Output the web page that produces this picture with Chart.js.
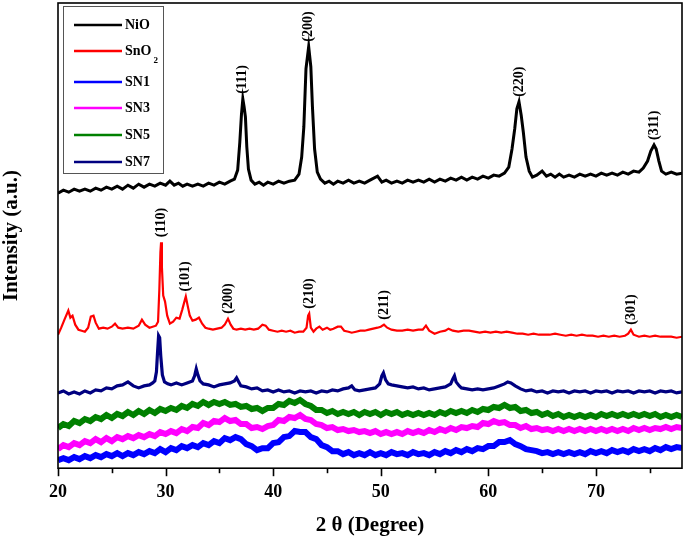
<!DOCTYPE html>
<html>
<head>
<meta charset="utf-8">
<script src="https://cdn.jsdelivr.net/npm/chart.js@4.4.1/dist/chart.umd.min.js"></script>
<style>
html,body{margin:0;padding:0;background:#ffffff;}
canvas{display:block;}
</style>
</head>
<body>
<canvas id="c" width="685" height="538"></canvas>
<script>
// ---------- DATA (2θ in degrees, intensity in arbitrary stacked units) ----------
const seriesNames = ['NiO', 'SnO2', 'SN1', 'SN3', 'SN5', 'SN7'];
const xTickValues = [20, 25, 30, 35, 40, 45, 50, 55, 60, 65, 70, 75];

const nioTheta = [20,20.5,21,21.5,22,22.5,23,23.5,24,24.5,25,25.5,26,26.5,27,27.5,28,28.5,29,29.5,30,
  30.4,30.8,31.2,31.6,
  32,32.5,33,33.5,34,34.5,35,35.5,36,
  36.4,36.7,36.9,37.05,37.18,37.3,37.42,37.55,37.7,37.95,
  38.3,38.7,39.1,39.5,
  40,40.5,41,41.5,42,
  42.4,42.65,42.85,43.05,43.3,43.5,43.65,43.85,44.1,44.4,44.8,
  45.2,45.6,
  46,46.5,47,47.5,48,48.5,49,
  49.7,50.1,
  50.5,51,51.5,52,52.5,53,53.5,54,54.5,55,55.5,56,56.5,57,57.5,58,58.5,59,59.5,60,60.5,61,61.5,
  61.9,62.2,62.45,62.65,62.85,63.05,63.25,63.5,63.8,64.1,64.5,
  65,65.4,65.8,66.2,66.6,
  67,67.5,68,68.5,69,69.5,70,70.5,71,71.5,72,72.5,73,73.5,74,
  74.4,74.8,75.1,75.4,75.6,75.85,76.1,76.5,
  77,77.5,78];
const nioI = [274,277,275,278,276,278,276,279,277,280,278,281,278,282,279,283,280,283,281,284,282,
  286,282,284,281,
  283,281,283,281,284,282,285,283,286,
  288,297,325,352,368,360,350,320,298,287,
  283,285,282,285,
  283,286,284,286,287,
  293,310,340,398,420,400,360,318,295,288,284,
  286,283,
  286,284,287,284,286,284,287,
  291,285,
  287,284,286,284,287,285,287,285,288,285,288,286,289,287,290,287,290,288,291,289,292,291,294,
  300,318,338,358,365,352,335,310,296,290,292,
  296,291,293,290,293,
  290,292,290,293,291,293,291,294,292,294,292,295,293,296,295,
  299,306,316,322,318,306,296,293,
  295,293,294];

const snTheta = [20,20.3,20.6,20.96,21.15,21.35,21.6,21.9,22.2,22.5,
  22.8,23.05,23.3,23.5,23.8,24.2,24.6,25,25.3,25.6,
  26,26.5,27,27.5,27.8,28.1,28.5,28.8,29.1,29.3,
  29.42,29.52,29.58,29.66,29.78,29.95,30.15,30.4,30.7,31,
  31.3,31.55,31.75,31.88,32.05,32.25,32.5,32.8,33.1,33.4,
  33.7,34,34.4,34.8,35.2,35.5,35.8,36.05,36.3,36.6,
  37,37.4,37.8,38.2,38.6,39,39.3,39.6,40,40.4,
  40.8,41.2,41.6,42,42.4,42.8,43.1,43.25,43.35,43.5,
  43.75,44,44.3,44.6,45,45.3,45.6,46,46.3,46.6,
  47,47.3,47.7,48.1,48.5,48.9,49.3,49.7,50,50.3,
  50.6,51,51.5,52,52.5,53,53.5,53.9,54.2,54.5,
  55,55.5,56,56.3,56.7,57.2,57.7,58.2,58.7,59.2,
  59.7,60.2,60.7,61.2,61.7,62.2,62.7,63.2,63.7,64.2,
  64.7,65.2,65.7,66.2,66.7,67.2,67.7,68.2,68.7,69.2,
  69.7,70.2,70.7,71.2,71.7,72.2,72.7,73,73.25,73.5,
  74,74.5,75,75.5,76,76.5,77,77.5,78];
const snI = [133,140,148,157,150,152,143,138,137,136,
  140,151,152,145,139,140,139,141,144,140,
  139,140,139,142,148,143,140,141,142,146,
  178,215,225,200,172,166,152,144,146,150,
  149,158,166,171,162,152,147,148,150,144,
  140,139,138,139,140,143,149,143,139,138,
  139,138,139,138,139,143,142,138,137,136,
  137,136,137,135,136,136,140,152,154,140,
  136,139,141,138,140,138,139,141,141,137,
  136,135,136,137,137,138,139,140,141,143,
  140,138,137,137,138,137,138,138,142,137,
  134,136,137,139,137,136,137,137,136,135,
  136,135,136,135,136,135,134,134,133,134,
  133,133,133,134,133,132,133,132,133,132,
  132,131,132,131,132,131,132,134,138,133,
  131,132,131,132,131,131,131,130,131];

const gridTheta = [20,20.5,21,21.5,22,22.5,23,23.5,24,24.5,
  25,25.5,26,26.5,27,27.5,28,28.5,29,29.5,
  30,30.5,31,31.5,32,32.5,33,33.5,34,34.5,
  35,35.5,36,36.5,37,37.5,38,38.5,39,39.5,
  40,40.5,41,41.5,42,42.5,43,43.5,44,44.5,
  45,45.5,46,46.5,47,47.5,48,48.5,49,49.5,
  50,50.5,51,51.5,52,52.5,53,53.5,54,54.5,
  55,55.5,56,56.5,57,57.5,58,58.5,59,59.5,
  60,60.5,61,61.5,62,62.5,63,63.5,64,64.5,
  65,65.5,66,66.5,67,67.5,68,68.5,69,69.5,
  70,70.5,71,71.5,72,72.5,73,73.5,74,74.5,
  75,75.5,76,76.5,77,77.5,78];
const sn1I = [8,10,8,11,9,12,10,13,11,14,
  12,15,12,15,13,16,14,17,15,19,
  16,20,18,22,20,23,21,25,23,27,
  25,30,28,31,29,24,22,18,20,20,
  25,26,31,32,37,36,36,31,29,23,
  21,17,17,14,16,13,15,13,16,13,
  15,13,16,14,15,13,16,14,15,13,
  16,14,17,15,18,16,19,17,20,19,
  22,22,26,26,28,24,22,19,18,17,
  15,16,14,16,14,16,14,16,14,17,
  15,17,15,18,16,18,16,19,17,19,
  17,20,18,21,19,21,20];
const sn3I = [19,23,21,25,23,27,25,29,26,30,
  27,31,29,32,30,33,31,34,32,36,
  34,37,35,39,37,41,40,45,43,47,
  46,50,47,48,44,44,40,41,39,42,
  43,48,47,51,50,53,49,48,44,43,
  40,41,38,39,37,38,36,37,35,37,
  34,36,34,36,34,37,35,37,35,38,
  36,39,37,40,38,41,40,42,41,45,
  44,47,45,46,43,43,40,42,39,40,
  38,39,37,39,37,39,37,39,37,39,
  37,39,37,39,37,39,37,40,38,40,
  38,40,39,41,39,41,40];
const sn5I = [40,44,42,47,45,49,47,51,49,53,
  50,54,52,56,53,57,54,58,55,59,
  57,60,58,62,60,64,62,66,63,66,
  64,66,63,64,61,62,59,60,57,60,
  60,64,63,67,65,68,64,62,58,58,
  55,57,54,56,54,56,53,56,54,56,
  53,56,54,56,53,55,53,55,53,55,
  53,56,54,57,55,57,55,58,56,59,
  58,61,60,63,60,61,57,58,55,56,
  53,55,52,54,51,53,51,53,51,53,
  51,54,52,54,52,54,52,54,52,54,
  52,54,51,53,51,53,51];

const sn7Theta = [20,20.5,21,21.5,22,22.5,23,23.5,24,24.5,
  25,25.5,26,26.5,27,27.5,28,28.5,28.8,29,
  29.15,29.25,29.35,29.45,29.55,29.7,29.9,30.2,30.5,31,
  31.5,32,32.5,32.7,32.85,33,33.2,33.5,34,34.5,
  35,35.5,36,36.4,36.6,36.8,37,37.5,38,38.5,
  39,39.5,40,40.5,41,41.5,42,42.5,43,43.5,
  44,44.5,45,45.5,46,46.5,47,47.3,47.6,48,
  48.5,49,49.5,49.9,50.1,50.25,50.45,50.7,51,51.5,
  52,52.5,53,53.5,54,54.5,55,55.5,56,56.5,
  56.7,56.85,57,57.3,57.5,58,58.5,59,59.5,60,
  60.5,61,61.5,61.8,62.1,62.5,63,63.5,64,64.5,
  65,65.5,66,66.5,67,67.5,68,68.5,69,69.5,
  70,70.5,71,71.5,72,72.5,73,73.5,74,74.5,
  75,75.5,76,76.5,77,77.5,78];
const sn7I = [75,77,74,76,74,77,75,78,77,80,
  79,82,83,86,82,80,82,83,85,87,
  96,115,132,130,112,93,86,84,83,85,
  83,85,87,92,99,93,87,84,83,81,
  83,84,85,87,90,86,82,81,79,80,
  77,78,76,78,76,77,75,77,76,77,
  75,77,76,78,77,79,80,82,78,77,
  78,79,80,84,92,95,88,84,83,82,
  81,80,81,79,80,78,79,80,81,84,
  89,92,86,82,80,79,78,79,78,79,
  80,82,84,86,85,82,79,77,78,76,
  77,75,77,76,77,75,77,76,77,75,
  77,76,77,75,77,76,77,75,77,76,
  77,75,77,76,77,75,76];

// Miller-index annotations (peak position in 2θ, text)
const nioHklTheta = [37.18, 43.3, 62.85, 75.4];
const nioHklText  = ['(111)', '(200)', '(220)', '(311)'];
const snHklTheta  = [29.58, 31.88, 35.8, 43.35, 50.3, 73.25];
const snHklText   = ['(110)', '(101)', '(200)', '(210)', '(211)', '(301)'];

// ---------- CHART ----------
const FONT = '"Liberation Serif", "Times New Roman", Times, serif';
const colors = ['#000000', '#ff0000', '#0000ff', '#ff00ff', '#008000', '#000080'];
const widths = [3, 2.2, 6, 6, 6, 3.2];
const pts = (t, v) => t.map((x, i) => ({x: x, y: v[i]}));
const seriesData = [pts(nioTheta, nioI), pts(snTheta, snI), pts(gridTheta, sn1I),
                    pts(gridTheta, sn3I), pts(gridTheta, sn5I), pts(sn7Theta, sn7I)];

function peakTop(thetaArr, valArr, t) {
  let m = -Infinity;
  thetaArr.forEach((x, i) => { if (Math.abs(x - t) <= 0.3 && valArr[i] > m) m = valArr[i]; });
  return m;
}

const framePlugin = {
  id: 'frame',
  afterDraw(chart) {
    const {ctx, chartArea: a, scales: {x}} = chart;
    ctx.save();
    ctx.strokeStyle = '#000';
    ctx.lineWidth = 1.6;
    ctx.strokeRect(a.left, a.top, a.right - a.left, a.bottom - a.top);
    xTickValues.forEach(v => {
      const px = Math.round(x.getPixelForValue(v)) + 0.5;
      const len = (v % 10 === 0) ? 8 : 5;
      ctx.beginPath();
      ctx.moveTo(px, a.bottom);
      ctx.lineTo(px, a.bottom + len);
      ctx.stroke();
    });
    ctx.restore();
  }
};

const yTitlePlugin = {
  id: 'yTitle',
  afterDraw(chart) {
    const {ctx, chartArea: a} = chart;
    ctx.save();
    ctx.translate(12, (a.top + a.bottom) / 2);
    ctx.rotate(-Math.PI / 2);
    ctx.fillStyle = '#000';
    ctx.font = 'bold 21px ' + FONT;
    ctx.textAlign = 'center';
    ctx.textBaseline = 'middle';
    ctx.fillText('Intensity (a.u.)', 0, 0);
    ctx.restore();
  }
};

const hklPlugin = {
  id: 'hkl',
  afterDatasetsDraw(chart) {
    const {ctx, scales: {x, y}} = chart;
    ctx.save();
    ctx.fillStyle = '#000';
    ctx.font = 'bold 14px ' + FONT;
    ctx.textAlign = 'left';
    ctx.textBaseline = 'middle';
    const draw = (thArr, txtArr, serT, serV) => {
      thArr.forEach((t, i) => {
        const px = x.getPixelForValue(t);
        const py = y.getPixelForValue(peakTop(serT, serV, t));
        ctx.save();
        ctx.translate(px, py - 5);
        ctx.rotate(-Math.PI / 2);
        ctx.fillText(txtArr[i], 0, 0);
        ctx.restore();
      });
    };
    draw(nioHklTheta, nioHklText, nioTheta, nioI);
    draw(snHklTheta, snHklText, snTheta, snI);
    ctx.restore();
  }
};

const legendPlugin = {
  id: 'legendBox',
  afterDraw(chart) {
    const ctx = chart.ctx;
    ctx.save();
    ctx.fillStyle = '#fff';
    ctx.fillRect(63, 6, 100, 167);
    ctx.strokeStyle = '#555';
    ctx.lineWidth = 1;
    ctx.strokeRect(63.5, 6.5, 100, 167);
    const rows = [25, 51, 82, 108, 135, 162];
    chart.data.datasets.forEach((ds, i) => {
      const yy = rows[i];
      ctx.strokeStyle = ds.borderColor;
      ctx.lineWidth = 2.5;
      ctx.beginPath();
      ctx.moveTo(74, yy);
      ctx.lineTo(122, yy);
      ctx.stroke();
      ctx.fillStyle = '#000';
      ctx.font = 'bold 14px ' + FONT;
      ctx.textAlign = 'left';
      ctx.textBaseline = 'middle';
      if (ds.label === 'SnO2') {
        ctx.fillText('SnO', 125, yy);
        const w = ctx.measureText('SnO').width;
        ctx.font = 'bold 9px ' + FONT;
        ctx.fillText('2', 125 + w + 2, yy + 10);
      } else {
        ctx.fillText(ds.label, 125, yy);
      }
    });
    ctx.restore();
  }
};

new Chart(document.getElementById('c'), {
  type: 'line',
  data: {
    datasets: seriesNames.map((n, i) => ({
      label: n,
      data: seriesData[i],
      borderColor: colors[i],
      backgroundColor: colors[i],
      borderWidth: widths[i],
      pointRadius: 0,
      fill: false,
      tension: 0
    }))
  },
  options: {
    responsive: false,
    animation: false,
    devicePixelRatio: 1,
    layout: {padding: {left: 58, right: 3, top: 3, bottom: 0}},
    plugins: {legend: {display: false}, tooltip: {enabled: false}},
    scales: {
      x: {
        type: 'linear',
        min: 20,
        max: 78,
        border: {display: false},
        grid: {display: true, drawOnChartArea: false, drawTicks: true, tickLength: 8, color: 'rgba(0,0,0,0)'},
        ticks: {stepSize: 10, includeBounds: false, color: '#000', padding: 5,
                font: {family: FONT, size: 18, weight: 'bold'}},
        title: {display: true, text: '2 θ (Degree)', color: '#000',
                font: {family: FONT, size: 21, weight: 'bold'}, padding: {top: 5, bottom: 0}}
      },
      y: {
        display: false,
        min: 0,
        max: 463.5
      }
    }
  },
  plugins: [hklPlugin, framePlugin, yTitlePlugin, legendPlugin]
});
</script>
</body>
</html>
